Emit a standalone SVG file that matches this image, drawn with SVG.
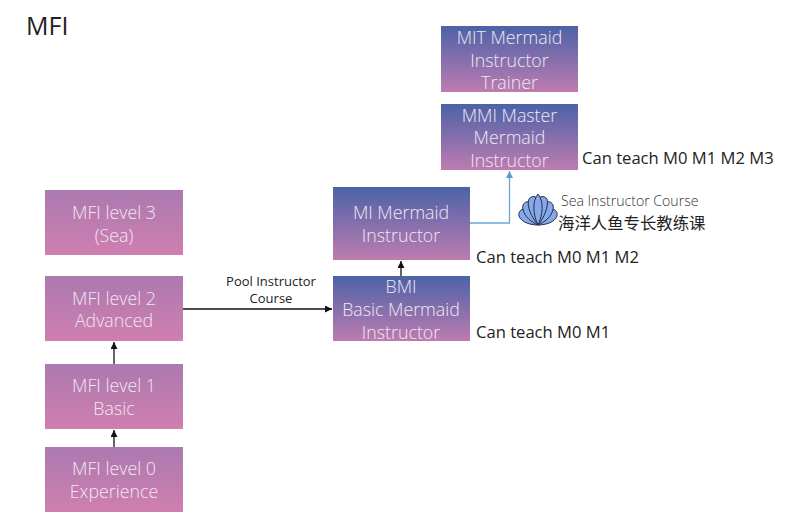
<svg xmlns="http://www.w3.org/2000/svg" width="801" height="526" viewBox="0 0 801 526">
<style>
text{font-family:"Open Sans","Noto Sans","Noto Sans CJK SC",sans-serif}
.n{font-size:17.8px;fill:#efe8f2;text-anchor:middle;font-weight:300}
.l{font-size:16.6px;fill:#222}
.c{fill:none;stroke:#111;stroke-width:1.3}
</style>
<defs>
<linearGradient id="pink" x1="0" y1="0" x2="0" y2="1"><stop offset="0" stop-color="#ab79b0"/><stop offset="1" stop-color="#d07fb0"/></linearGradient>
<linearGradient id="blue" x1="0" y1="0" x2="0" y2="1"><stop offset="0" stop-color="#4c62a8"/><stop offset="1" stop-color="#bd7cb0"/></linearGradient>
<marker id="a" markerWidth="8" markerHeight="8" refX="7" refY="3.500" orient="auto" markerUnits="userSpaceOnUse"><path d="M0,0L7,3.500L0,7z" fill="#111"/></marker>
<marker id="b" markerWidth="8" markerHeight="8" refX="7" refY="3.500" orient="auto" markerUnits="userSpaceOnUse"><path d="M0,0L7,3.500L0,7z" fill="#5b9bd0"/></marker>
</defs>
<rect width="801" height="526" fill="#fff"/>
<text x="26" y="35" font-size="25" fill="#222">MFI</text>
<g id="connectors">
<path class="c" marker-end="url(#a)" d="M114,447V430"/>
<path class="c" marker-end="url(#a)" d="M114,364V342"/>
<path class="c" marker-end="url(#a)" d="M183,309H332"/>
<path class="c" marker-end="url(#a)" d="M401,276V261"/>
<path fill="none" stroke="#6aa5d6" stroke-width="1.300" marker-end="url(#b)" d="M470,223H509.500V171"/>
</g>
<text x="271" y="286" font-size="13" fill="#222" text-anchor="middle">Pool Instructor</text>
<text x="271" y="303" font-size="13" fill="#222" text-anchor="middle">Course</text>
<g id="mit"><rect x="441" y="26" width="137" height="66" fill="url(#blue)"/><text class="n" x="509.500" y="44">MIT Mermaid</text><text class="n" x="509.500" y="67">Instructor</text><text class="n" x="509.500" y="89">Trainer</text></g>
<g id="mmi"><rect x="441" y="104" width="137" height="66" fill="url(#blue)"/><text class="n" x="509.500" y="122">MMI Master</text><text class="n" x="509.500" y="144">Mermaid</text><text class="n" x="509.500" y="167">Instructor</text></g>
<g id="mi"><rect x="333" y="187" width="137" height="73" fill="url(#blue)"/><text class="n" x="401" y="219">MI Mermaid</text><text class="n" x="401" y="242">Instructor</text></g>
<g id="bmi"><rect x="333" y="276" width="137" height="65" fill="url(#blue)"/><text class="n" x="401" y="293">BMI</text><text class="n" x="401" y="316">Basic Mermaid</text><text class="n" x="401" y="339">Instructor</text></g>
<g id="mfi3"><rect x="45" y="190" width="138" height="65" fill="url(#pink)"/><text class="n" x="114" y="219">MFI level 3</text><text class="n" x="114" y="242">(Sea)</text></g>
<g id="mfi2"><rect x="45" y="276" width="138" height="65" fill="url(#pink)"/><text class="n" x="114" y="305">MFI level 2</text><text class="n" x="114" y="327">Advanced</text></g>
<g id="mfi1"><rect x="45" y="364" width="138" height="65" fill="url(#pink)"/><text class="n" x="114" y="392">MFI level 1</text><text class="n" x="114" y="415">Basic</text></g>
<g id="mfi0"><rect x="45" y="447" width="138" height="65" fill="url(#pink)"/><text class="n" x="114" y="475">MFI level 0</text><text class="n" x="114" y="498">Experience</text></g>
<text class="l" x="582" y="164">Can teach M0 M1 M2 M3</text>
<text class="l" x="476" y="263">Can teach M0 M1 M2</text>
<text class="l" x="476" y="338">Can teach M0 M1</text>
<g id="shell" fill="#87a9e8" stroke="#22304f" stroke-width="1" stroke-linejoin="round">
<path d="M538,225C530,225 521,222 519,216C518,211 522,208 527,209Z"/>
<path d="M538,225C546,225 555,222 557,216C558,211 554,208 549,209Z"/>
<path d="M538,225C530,222 521,213 523,205C525,201 529,201 532,203Z"/>
<path d="M538,225C546,222 555,213 553,205C551,201 547,201 544,203Z"/>
<path d="M538,225C532,218 526,206 529,199C531,196 535,196 537,198Z"/>
<path d="M538,225C544,218 549,206 547,199C545,196 541,196 539,198Z"/>
<path d="M538,225C533,215 532,201 538,194C544,201 543,215 538,225Z"/>
</g>
<text x="561" y="206" font-size="14.100" fill="#333" font-weight="300">Sea Instructor Course</text>
<text x="558" y="229" font-size="16.400" fill="#222" style="font-family:'Noto Sans CJK SC',sans-serif">海洋人鱼专长教练课</text>
</svg>
